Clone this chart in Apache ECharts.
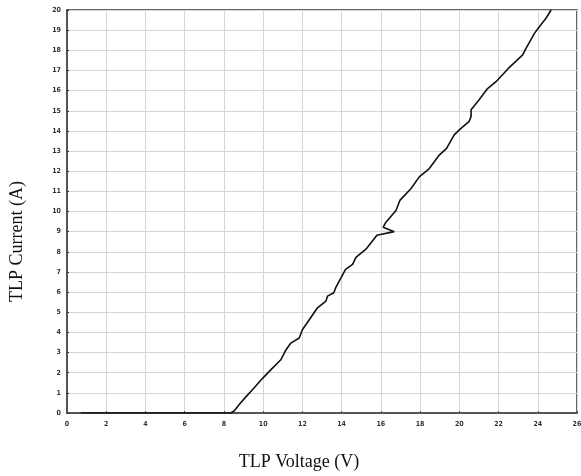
<!DOCTYPE html>
<html>
<head>
<meta charset="utf-8">
<script src="https://cdn.jsdelivr.net/npm/echarts@6/dist/echarts.min.js"></script>
<style>
  html, body { margin: 0; padding: 0; background: #fff; }
  #chart { width: 581px; height: 476px; }
</style>
</head>
<body>
<div id="chart"></div>
<script>
// TLP curve
const voltage = [0.7, 8.35, 8.52, 8.8, 9.12, 9.5, 9.97, 10.4, 10.9, 11.16, 11.41, 11.84, 12.0, 12.35, 12.77, 13.2, 13.28, 13.6, 13.7, 14.2, 14.56, 14.73, 15.24, 15.8, 16.68, 16.12, 16.26, 16.77, 16.97, 17.53, 17.96, 18.47, 18.98, 19.35, 19.74, 20.0, 20.5, 20.6, 20.6, 21.0, 21.44, 21.87, 22.5, 23.23, 23.4, 23.83, 24.08, 24.42, 24.68]
const current = [0, 0, 0.1, 0.45, 0.8, 1.2, 1.72, 2.15, 2.64, 3.13, 3.47, 3.72, 4.13, 4.63, 5.22, 5.55, 5.8, 5.97, 6.22, 7.13, 7.38, 7.72, 8.13, 8.82, 9.0, 9.22, 9.47, 10.05, 10.55, 11.13, 11.72, 12.13, 12.8, 13.13, 13.8, 14.05, 14.47, 14.72, 15.05, 15.53, 16.1, 16.44, 17.1, 17.77, 18.1, 18.84, 19.17, 19.59, 20.0]

const xMin = 0, xMax = 26, xStep = 2
const yMin = 0, yMax = 20, yStep = 1

const chart = echarts.init(document.getElementById('chart'))

const tickLabel = { fontSize: 7, color: '#333', fontWeight: 'bold', fontFamily: 'DejaVu Sans Condensed' }
const axisName = { fontSize: 18, color: '#111', fontFamily: 'Liberation Serif' }

chart.setOption({
  animation: false,
  grid: {
    left: 67, right: 4, top: 10, bottom: 63,
    containLabel: false,
    outerBoundsMode: 'none',
    show: true, borderColor: '#333', borderWidth: 1.5
  },
  xAxis: {
    type: 'value',
    min: xMin, max: xMax, interval: xStep,
    name: 'TLP Voltage (V)',
    nameLocation: 'middle',
    nameGap: 40,
    nameTextStyle: Object.assign({ padding: [0, 46, 0, 0] }, axisName),
    axisLine: { show: true, lineStyle: { color: '#555', width: 2 } },
    axisTick: { show: true, inside: true, length: 2, lineStyle: { color: '#555' } },
    axisLabel: Object.assign({ margin: 8 }, tickLabel),
    splitLine: { show: true, lineStyle: { color: '#d6d6d6', width: 1 } }
  },
  yAxis: {
    type: 'value',
    min: yMin, max: yMax, interval: yStep,
    name: 'TLP Current (A)',
    nameLocation: 'middle',
    nameGap: 41,
    nameTextStyle: Object.assign({ padding: [0, 60, 0, 0] }, axisName),
    axisLine: { show: true, lineStyle: { color: '#555', width: 2 } },
    axisTick: { show: true, inside: true, length: 2, lineStyle: { color: '#333' } },
    axisLabel: Object.assign({ margin: 6 }, tickLabel),
    splitLine: { show: true, lineStyle: { color: '#d6d6d6', width: 1 } }
  },
  series: [{
    type: 'line',
    data: voltage.map((v, i) => [v, current[i]]),
    showSymbol: false,
    smooth: false,
    lineStyle: { color: '#111', width: 1.6 }
  }]
})
</script>
</body>
</html>
